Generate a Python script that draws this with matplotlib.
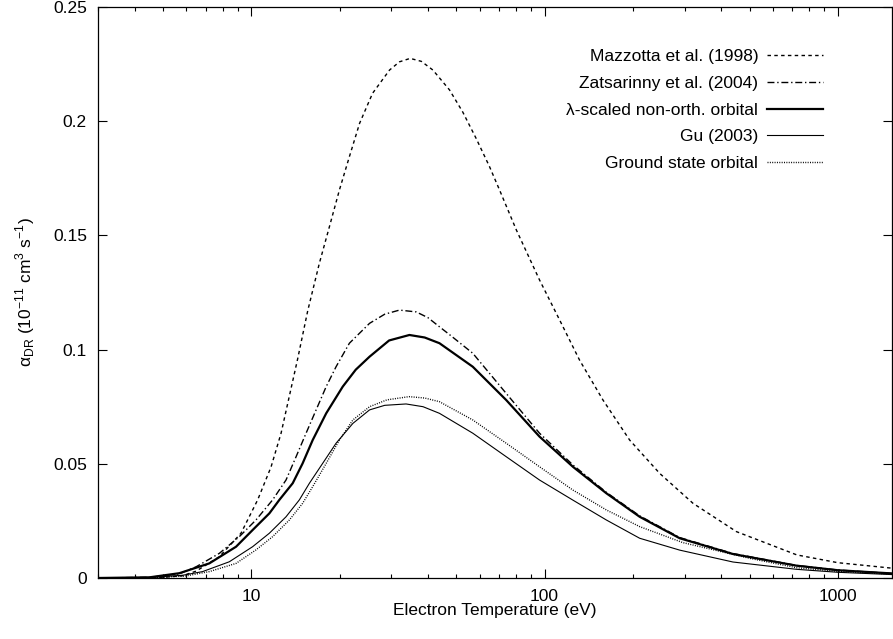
import matplotlib
matplotlib.use("Agg")
import matplotlib.pyplot as plt
from matplotlib.ticker import FuncFormatter, NullFormatter, MultipleLocator

plt.rcParams['font.family'] = ['Liberation Sans', 'DejaVu Sans']
plt.rcParams['font.size'] = 12.5

# values (T in eV, rate in 1e-11 cm^3 s^-1)
T_mazz = [3, 4.5, 5.0, 5.83, 6.48, 7.78, 9.22, 10.51, 11.68, 12.63, 14.39,
          15.57, 17.06, 18.46, 19.97, 21.6, 23.4, 25.9, 29.6, 32.0, 34.8, 38.0,
          41.6, 47.4, 52.6, 58.4, 64.9, 70.2, 80.1, 96.1, 112.5, 131.6, 158.2,
          195, 246.9, 320.7, 451, 725, 1000, 1530]
a_mazz = [0, 0.0001, 0.0003, 0.0010, 0.0030, 0.0093, 0.0196, 0.0342, 0.0487,
          0.0634, 0.0960, 0.1170, 0.1378, 0.1538, 0.1699, 0.1845, 0.1991,
          0.2122, 0.2224, 0.2260, 0.2275, 0.2262, 0.2224, 0.2137, 0.2040,
          0.1925, 0.1801, 0.1699, 0.1524, 0.1305, 0.1130, 0.0954, 0.0779,
          0.0604, 0.0458, 0.0327, 0.0203, 0.0101, 0.0067, 0.0043]

T_zats = [3, 4.5, 5.68, 6.48, 7.78, 9.10, 10.37, 11.82, 13.13, 14.21, 15.37,
          16.63, 18.0, 19.45, 21.6, 25.3, 28.5, 32.0, 36.5, 40.0, 43.8, 48.0,
          56.9, 64.9, 74.0, 96.1, 124.9, 162.4, 211, 289, 439, 723, 1000, 1530]
a_zats = [0, 0.0003, 0.0018, 0.0049, 0.0108, 0.0181, 0.0254, 0.0342, 0.0429,
          0.0531, 0.0634, 0.0736, 0.0838, 0.0925, 0.1028, 0.1115, 0.1155,
          0.1173, 0.1165, 0.1140, 0.1100, 0.1060, 0.0984, 0.0896, 0.0808,
          0.0634, 0.0495, 0.0375, 0.0272, 0.0177, 0.0107, 0.0055, 0.0035,
          0.0020]

T_lam = [3, 4.5, 5.68, 7.19, 8.87, 10.1, 11.52, 12.46, 13.84, 14.96, 16.19,
         18.0, 20.5, 22.7, 25.3, 29.5, 34.6, 39.0, 43.8, 56.9, 74.0, 96.1,
         124.9, 162.4, 211, 289, 439, 723, 1000, 1530]
a_lam = [0, 0.0003, 0.0021, 0.0064, 0.0137, 0.0210, 0.0283, 0.0342, 0.0415,
         0.0502, 0.0604, 0.0721, 0.0838, 0.0912, 0.0969, 0.1040, 0.1064,
         0.1053, 0.1028, 0.0925, 0.0779, 0.0619, 0.0487, 0.0371, 0.0268,
         0.0174, 0.0105, 0.0054, 0.0034, 0.0020]

T_gu = [3, 4.5, 5.83, 6.82, 8.41, 10.1, 11.52, 13.13, 14.58, 15.78, 17.51,
        19.45, 22.2, 25.3, 28.5, 33.7, 38.5, 43.8, 56.9, 74.0, 96.1, 124.9,
        162.4, 211, 289, 439, 723, 1000, 1530]
a_gu = [0, 0.0002, 0.0012, 0.0028, 0.0071, 0.0137, 0.0196, 0.0268, 0.0342,
        0.0415, 0.0502, 0.0590, 0.0677, 0.0736, 0.0756, 0.0762, 0.0750,
        0.0721, 0.0634, 0.0531, 0.0429, 0.0341, 0.0254, 0.0174, 0.0122,
        0.0070, 0.0038, 0.0025, 0.0015]

T_gs = [3, 4.5, 5.98, 7.19, 8.87, 10.37, 11.82, 13.48, 14.96, 16.19, 18.0,
        19.97, 22.2, 25.3, 29, 34.5, 39.0, 43.8, 56.9, 74.0, 96.1, 124.9,
        162.4, 211, 296, 501, 723, 1000, 1530]
a_gs = [0, 0.0001, 0.0009, 0.0028, 0.0064, 0.0123, 0.0181, 0.0254, 0.0327,
        0.0400, 0.0502, 0.0604, 0.0692, 0.0750, 0.0780, 0.0794, 0.0788,
        0.0772, 0.0692, 0.0590, 0.0487, 0.0385, 0.0298, 0.0225, 0.0155,
        0.0086, 0.0045, 0.0029, 0.0017]

fig = plt.figure(figsize=(8.93, 6.39), dpi=100)
ax = fig.add_axes([98 / 893, 1 - 578 / 639, (892 - 98) / 893, 571 / 639])

ax.plot(T_mazz, a_mazz, color='black', lw=1.0, ls=(0, (2.5, 2.4)),
        label='Mazzotta et al. (1998)')
ax.plot(T_zats, a_zats, color='black', lw=1.0, ls=(0, (5, 2, 1, 2)),
        label='Zatsarinny et al. (2004)')
ax.plot(T_lam, a_lam, color='black', lw=1.6,
        label='λ-scaled non-orth. orbital')
ax.plot(T_gu, a_gu, color='black', lw=0.8, label='Gu (2003)')
ax.plot(T_gs, a_gs, color='black', lw=1.0, ls=(0, (0.7, 1.0)),
        label='Ground state orbital')

ax.set_xscale('log')
ax.set_xlim(3, 1530)
ax.set_ylim(0, 0.25)
ax.yaxis.set_major_locator(MultipleLocator(0.05))
ax.xaxis.set_major_formatter(FuncFormatter(lambda v, p: '%g' % v))
ax.xaxis.set_minor_formatter(NullFormatter())
ax.yaxis.set_major_formatter(FuncFormatter(lambda v, p: '%g' % round(v, 3)))

ax.tick_params(which='both', direction='in', top=True, right=True, width=0.8)
ax.tick_params(which='major', length=6.5, pad=8)
ax.tick_params(which='minor', length=3.2)
for s in ax.spines.values():
    s.set_linewidth(0.9)

ax.set_xlabel('Electron Temperature (eV)', va='top')
ax.xaxis.set_label_coords(0.5, -0.043)
ax.set_ylabel(r'α$_{\mathregular{DR}}$ (10$^{\mathregular{-11}}$ cm$^{\mathregular{3}}$ s$^{\mathregular{-1}}$)')
ax.yaxis.set_label_coords(-0.077, 0.5)

ax.legend(loc='upper right', bbox_to_anchor=(0.913, 0.926), frameon=False,
          markerfirst=False, handlelength=3.2, handletextpad=0.52,
          labelspacing=0.66, borderpad=0, borderaxespad=0)

fig.savefig('out.png', dpi=100)
